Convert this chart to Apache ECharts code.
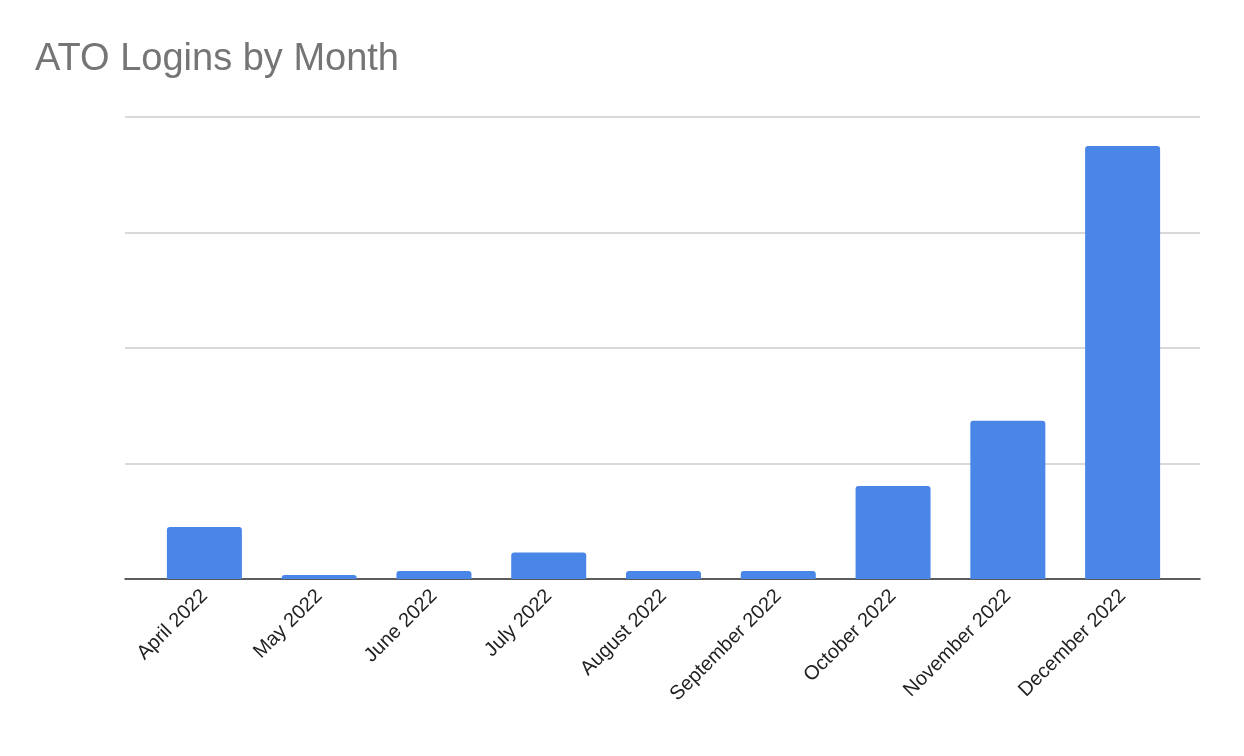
<!DOCTYPE html>
<html>
<head>
<meta charset="utf-8">
<script src="https://cdn.jsdelivr.net/npm/echarts@6/dist/echarts.min.js"></script>
<style>
  html, body { margin: 0; padding: 0; background: #fff; }
  #chart { width: 1244px; height: 756px; }
</style>
</head>
<body>
<div id="chart"></div>
<script>
const months = ["April 2022", "May 2022", "June 2022", "July 2022", "August 2022",
  "September 2022", "October 2022", "November 2022", "December 2022"];
// values (no y labels shown, relative scale: gridline = 100)
const logins = [45, 3.5, 7, 23, 7, 7, 80.5, 137, 375];

const chart = echarts.init(document.getElementById("chart"));

chart.setOption({
  animation: false,
  title: {
    text: "ATO Logins by Month",
    left: 30,
    top: 36,
    textStyle: { fontFamily: "Liberation Sans", fontSize: 38, fontWeight: "normal", color: "#757575" }
  },
  grid: [
    { left: 125, right: 44, top: 117, bottom: 177 },
    { left: 147, right: 64, top: 117, bottom: 177 }
  ],
  xAxis: [
    {
      gridIndex: 0,
      type: "category",
      data: months,
      axisLine: { lineStyle: { color: "#333", width: 1.5 } },
      axisTick: { show: false },
      axisLabel: { show: false }
    },
    {
      gridIndex: 1,
      type: "category",
      data: months,
      axisLine: { show: false },
      axisTick: { show: false },
      axisLabel: {
        rotate: 45,
        interval: 0,
        margin: 14,
        fontFamily: "Liberation Sans",
        fontSize: 20,
        color: "#222"
      }
    }
  ],
  yAxis: [
    {
      gridIndex: 0,
      type: "value",
      min: 0,
      max: 400,
      interval: 100,
      axisLabel: { show: false },
      axisLine: { show: false },
      axisTick: { show: false },
      splitLine: { lineStyle: { color: "#ccc", width: 1.5 } }
    },
    {
      gridIndex: 1,
      type: "value",
      min: 0,
      max: 400,
      interval: 100,
      axisLabel: { show: false },
      axisLine: { show: false },
      axisTick: { show: false },
      splitLine: { show: false }
    }
  ],
  series: [{
    type: "bar",
    xAxisIndex: 1,
    yAxisIndex: 1,
    data: logins,
    barWidth: 75,
    z: 3,
    itemStyle: { color: "#4a86e8", borderRadius: [3, 3, 0, 0] }
  }]
});
</script>
</body>
</html>
